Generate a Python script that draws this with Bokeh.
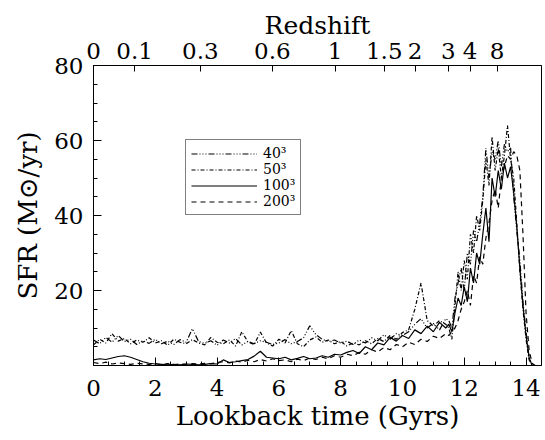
from bokeh.plotting import figure
from bokeh.models import LinearAxis, FixedTicker, Range1d, Legend, LegendItem
from bokeh.embed import file_html
from bokeh.resources import INLINE

# Lookback time grid (Gyr)
t = [0.0, 0.2, 0.4, 0.6, 0.8, 1.0, 1.2, 1.4, 1.6, 1.8, 2.0,
     2.2, 2.4, 2.6, 2.8, 3.0, 3.2, 3.4, 3.6, 3.8, 4.0,
     4.2, 4.4, 4.6, 4.8, 5.0, 5.2, 5.4, 5.6, 5.8, 6.0,
     6.2, 6.4, 6.6, 6.8, 7.0, 7.2, 7.4, 7.6, 7.8, 8.0,
     8.2, 8.4, 8.6, 8.8, 9.0, 9.2, 9.4, 9.6, 9.8, 10.0,
     10.2, 10.4, 10.6, 10.8, 11.0, 11.2, 11.4,
     11.5, 11.6, 11.7, 11.8, 11.9, 12.0, 12.1, 12.2, 12.3, 12.4,
     12.5, 12.6, 12.7, 12.8, 12.9, 13.0, 13.1, 13.2, 13.3, 13.4,
     13.5, 13.6, 13.7, 13.8, 13.9, 14.0, 14.1, 14.2, 14.3]

sfr_40 = [6.8, 5.8, 7.5, 6.2, 8.0, 6.4, 7.0, 5.6, 6.6, 5.9, 7.0,
          5.8, 6.5, 5.6, 6.9, 6.2, 9.8, 6.4, 5.9, 6.6, 5.4,
          6.8, 6.0, 7.2, 5.5, 6.4, 5.8, 6.6, 6.2, 5.6, 6.0,
          6.9, 5.8, 6.4, 7.4, 10.6, 8.2, 7.0, 6.4, 6.8, 6.0,
          6.5, 5.6, 6.8, 6.0, 7.4, 6.6, 8.2, 7.0, 8.5, 8.0,
          9.0, 11.0, 12.5, 10.0, 11.2, 9.5, 12.5,
          12, 10, 18, 22, 26, 20, 30, 27, 36, 33,
          38, 45, 58, 50, 57, 55, 60, 53, 59, 57,
          58, 45, 36, 28, 17, 9, 2, 0, 0]

sfr_50 = [5.5, 7.0, 6.0, 8.5, 6.5, 7.2, 5.8, 6.8, 6.2, 7.4, 6.0,
          6.6, 5.4, 7.0, 6.2, 5.8, 6.9, 6.0, 5.5, 7.5, 6.2,
          5.8, 6.8, 5.2, 9.0, 6.3, 5.6, 8.9, 6.0, 5.2, 7.0,
          6.0, 9.3, 5.8, 5.0, 6.8, 7.6, 6.2, 6.8, 5.8, 6.4,
          5.2, 6.0, 5.5, 6.6, 5.8, 7.2, 6.4, 8.0, 7.0, 8.8,
          9.5, 15, 22, 12, 10.5, 12, 11,
          10, 7, 16, 25, 20, 28, 23, 35, 30, 40,
          36, 44, 55, 48, 61, 52, 58, 50, 56, 64,
          55, 50, 38, 25, 15, 7, 1.5, 0, 0]

sfr_100 = [1.5, 1.8, 1.6, 2.0, 2.4, 2.6, 2.2, 1.6, 1.0, 0.6, 0.4,
           0.3, 0.2, 0.3, 0.2, 0.4, 0.3, 0.2, 0.3, 0.5, 0.4,
           1.5, 0.8, 1.0, 1.3, 1.6, 2.5, 3.8, 2.2, 2.0, 1.8,
           2.2, 1.5, 1.9, 2.4, 1.8, 2.0, 2.6, 2.2, 3.0, 2.8,
           3.5, 4.0, 3.2, 5.0, 4.2, 6.0, 5.5, 7.5, 6.5, 8.0,
           7.2, 9.5, 8.5, 10.5, 9.0, 11.5, 10.0,
           11, 9, 14, 18, 16, 21, 17, 26, 22, 30,
           27, 35, 42, 33, 50, 45, 52, 47, 54, 50,
           53, 46, 37, 26, 16, 8, 2, 0, 0]

sfr_200 = [0.8, 0.5, 0.9, 0.4, 0.7, 0.5, 0.3, 0.6, 0.4, 0.3, 0.5,
           0.3, 0.5, 0.2, 0.4, 0.3, 0.5, 0.4, 0.6, 0.5, 0.8,
           1.0, 0.7, 1.2, 0.9, 1.4, 1.0, 1.6, 1.2, 1.8, 1.3,
           1.5, 1.0, 1.7, 1.3, 2.0, 1.6, 2.2, 1.8, 2.6, 2.2,
           3.0, 2.6, 3.5, 3.0, 4.2, 3.6, 4.8, 4.2, 5.6, 5.0,
           6.2, 5.6, 7.0, 6.4, 7.8, 7.2, 8.5,
           8, 9, 10, 12, 15, 17, 20, 16, 24, 22,
           29, 27, 34, 38, 44, 47, 42, 50, 53, 56,
           55, 57, 56, 52, 35, 14, 4, 0.5, 0]

# Top axis: redshift labels and their lookback times (Gyr)
z_labels = ["0", "0.1", "0.3", "0.6", "1", "1.5", "2", "3", "4", "8"]
z_lookback = [0.0, 1.33, 3.46, 5.79, 7.82, 9.41, 10.41, 11.48, 12.19, 13.06]

x_major = [0, 2, 4, 6, 8, 10, 12, 14]
x_minor = [0.5, 1, 1.5, 2.5, 3, 3.5, 4.5, 5, 5.5, 6.5, 7, 7.5, 8.5, 9, 9.5,
           10.5, 11, 11.5, 12.5, 13, 13.5, 14.5]
y_major = [20, 40, 60, 80]
y_minor = [5, 10, 15, 25, 30, 35, 45, 50, 55, 65, 70, 75]

FONT = "DejaVu Serif"

p = figure(width=545, height=440, output_backend="svg", toolbar_location=None,
           x_range=Range1d(0, 14.5), y_range=Range1d(0, 80),
           min_border_left=93, min_border_right=4, min_border_top=65,
           min_border_bottom=75, background_fill_color="white",
           border_fill_color="white")
p.grid.visible = False
p.outline_line_color = "black"
p.outline_line_width = 1

series = [
    ("40\u00b3", sfr_40, "6 2 1 2 1 2 1 2"),
    ("50\u00b3", sfr_50, "4 2 1 2"),
    ("100\u00b3", sfr_100, "solid"),
    ("200\u00b3", sfr_200, "5 4"),
]
items = []
for label, vals, dash in series:
    r = p.line(t, vals, line_color="black", line_width=1.2, line_dash=dash)
    items.append(LegendItem(label=label, renderers=[r]))

def style_axis(ax):
    ax.axis_line_color = "black"
    ax.major_tick_line_color = "black"
    ax.minor_tick_line_color = "black"
    ax.major_label_text_font = FONT
    ax.axis_label_text_font = FONT
    ax.major_label_text_color = "black"
    ax.axis_label_text_color = "black"
    ax.axis_label_text_font_style = "normal"
    ax.major_tick_out = 0
    ax.minor_tick_out = 0

xa = p.xaxis[0]
style_axis(xa)
xa.ticker = FixedTicker(ticks=x_major, minor_ticks=x_minor)
xa.major_tick_in = 8
xa.minor_tick_in = 4
xa.major_label_text_font_size = "23px"
xa.axis_label = "Lookback time (Gyrs)"
xa.axis_label_text_font_size = "26px"
xa.major_label_standoff = 14
xa.axis_label_standoff = 2

ya = p.yaxis[0]
style_axis(ya)
ya.ticker = FixedTicker(ticks=y_major, minor_ticks=y_minor)
ya.major_tick_in = 8
ya.minor_tick_in = 4
ya.major_label_text_font_size = "23px"
ya.axis_label = "SFR (M\u2299/yr)"
ya.axis_label_text_font_size = "26px"
ya.major_label_standoff = 10
ya.axis_label_standoff = 8

top = LinearAxis(ticker=FixedTicker(ticks=z_lookback, minor_ticks=[]),
                 major_label_overrides={v: s for v, s in zip(z_lookback, z_labels)},
                 axis_label="Redshift")
style_axis(top)
top.major_tick_in = 6
top.minor_tick_in = 0
top.major_label_text_font_size = "23px"
top.axis_label_text_font_size = "25px"
top.major_label_standoff = 7
top.axis_label_standoff = 0
p.add_layout(top, "above")

legend = Legend(items=items, location=(92, 150))
legend.label_text_font = FONT
legend.label_text_font_size = "14px"
legend.label_text_color = "black"
legend.glyph_width = 66
legend.glyph_height = 13
legend.label_height = 13
legend.spacing = -2
legend.padding = 5
legend.margin = 0
legend.label_standoff = 6
legend.border_line_color = "black"
legend.border_line_width = 1
legend.background_fill_alpha = 1
p.add_layout(legend, "center")

open("out.html", "w").write(file_html(p, INLINE))
